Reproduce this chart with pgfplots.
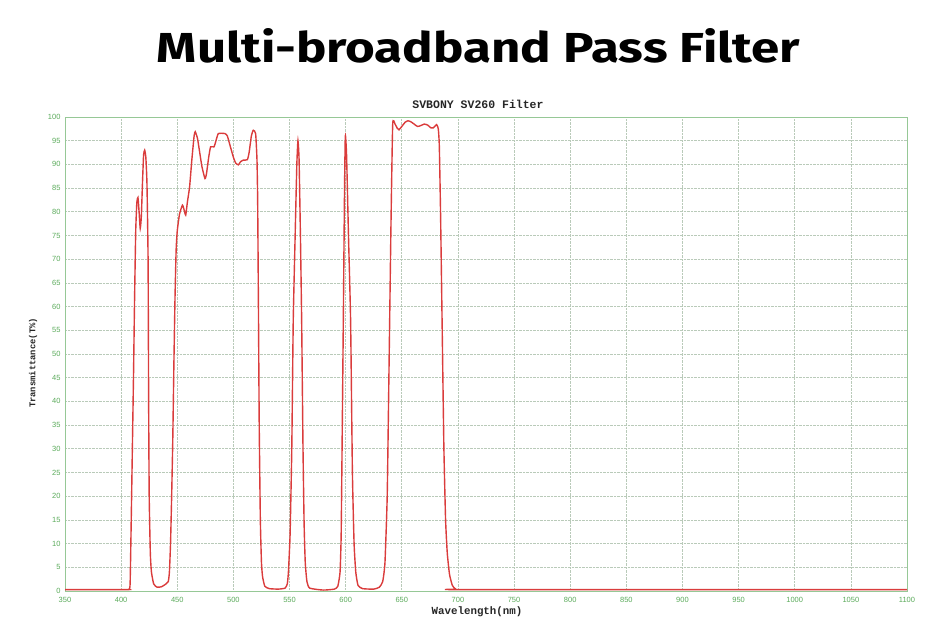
\documentclass[border=0pt]{standalone}
\usepackage{fontspec}
\setmainfont{Liberation Sans}
\newfontfamily\titlefont{Fira Sans}
\newfontfamily\monofont{Liberation Mono}
\usepackage{pgfplots}
\pgfplotsset{compat=1.18}
\definecolor{framegreen}{RGB}{150,200,150}
\definecolor{gridc}{RGB}{185,202,185}
\definecolor{ticklab}{RGB}{90,170,90}
\definecolor{curvered}{RGB}{218,60,60}
\begin{document}
\begin{tikzpicture}[x=1pt,y=1pt]
\useasboundingbox (0,0) rectangle (944,640);
\begin{axis}[
  at={(65pt,49pt)}, anchor=south west,
  scale only axis, width=842pt, height=474pt,
  xmin=350, xmax=1100, ymin=0, ymax=100,
  xtick={350,400,...,1100}, ytick={0,5,...,100},
  major tick length=0pt,
  grid=major,
  major grid style={gridc, densely dotted, line width=0.7pt},
  axis line style={framegreen, line width=0.8pt},
  tick label style={font=\fontsize{7.5}{8}\selectfont, text=ticklab},
  /pgf/number format/assume math mode=true,
  /pgf/number format/1000 sep={},
  xticklabel style={yshift=-3pt},
  yticklabel style={xshift=-1pt},
]
\addplot[curvered, line width=1.4pt, smooth, tension=0.3] coordinates {
(350,0.3) (405,0.3) (407,0.4) (408,1.5) (409,15) (410,30) (411,45) (412,62) (413,76) (414,82) (415,83) (416,80) (417,76.5) (418,79) (419,86) (420,92) (421,93) (422,91.5) (423,86) (424,70) (424.5,40) (425,20) (426,8) (427,4) (429,1.5) (432,0.8) (436,0.9) (440,1.5) (442,2) (443,4) (444,10) (445,20) (446,32) (447,48) (448,62) (449,72) (450,76) (452,79.5) (454.6,81.4) (456,80.5) (457.5,79.3) (459,82) (461,85.3) (463,91) (465,96) (466,96.9) (468,95.5) (470,92.5) (472,89.5) (474.7,87) (476,88) (478,91.5) (479.7,93.7) (482.7,93.7) (484.5,95) (486.6,96.5) (492.5,96.5) (494.6,96) (497,94) (500,91.5) (502,90.3) (504.4,89.9) (506.5,90.6) (508.8,90.9) (512.4,91) (514,92.5) (516,96) (517.7,97.2) (519.8,96.5) (521,91) (521.6,82.5) (522.3,60) (523,35) (524,15) (525,6) (526,3) (528,1) (532,0.5) (540,0.4) (546,0.6) (548,1.5) (549,4) (550.5,12) (552,30) (553.3,57) (555,75) (556.5,90) (557.5,95) (558.5,91) (559.7,75) (560.8,57) (562,30) (563,14) (564,6) (565.5,2) (568,0.6) (580,0.2) (590,0.4) (593,1) (595,4) (596,12) (597,35) (597.9,57) (599,85) (599.7,96) (600.8,92) (602.5,75) (604.4,57) (606,25) (607.5,10) (609,4) (611,1.2) (615,0.5) (625,0.4) (630,0.8) (633,2) (635,6) (637,20) (638.5,45) (640.4,78) (641.9,98.5) (644,98.5) (646,97.6) (647.5,97.3) (650,98) (653,98.9) (655.5,99.2) (658,99) (661,98.5) (664,98) (667,98.2) (670,98.5) (673,98.3) (676,97.7) (678,97.7) (681,98.4) (682.5,97.5) (683.4,94) (684.5,80) (686,55) (687.5,30) (689,15) (690.5,8) (692.5,3.5) (695,1.2) (698,0.4) (705,0.3) (1100,0.3)
};
\end{axis}
\node[anchor=base, inner sep=0pt, text=black] at (478.5,577) {\resizebox{643pt}{34pt}{\titlefont\bfseries Multi-broadband Pass Filter}};
\node[font=\monofont\bfseries\fontsize{11.5}{12}\selectfont, text=black!85] at (478,536) {SVBONY SV260 Filter};
\node[font=\monofont\bfseries\fontsize{10.8}{12}\selectfont, text=black!85] at (477,28) {Wavelength(nm)};
\node[font=\monofont\bfseries\fontsize{8.8}{10}\selectfont, text=black!85, rotate=90] at (33,277) {Transmittance(T\%)};
\end{tikzpicture}
\end{document}
